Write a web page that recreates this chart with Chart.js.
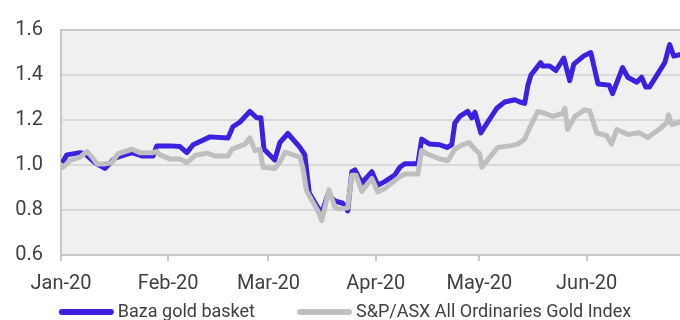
<!DOCTYPE html>
<html>
<head>
<meta charset="utf-8">
<script src="https://cdn.jsdelivr.net/npm/chart.js@4"></script>
<style>
  html, body { margin: 0; padding: 0; background: #fff; overflow: hidden; }
  #wrap { width: 680px; height: 320px; }
</style>
</head>
<body>
<div id="wrap"><canvas id="chart" width="680" height="320"></canvas></div>
<script>
// x values are days since 1 Jan 2020
const monthDays = [0, 31, 60, 91, 121, 152];
const monthLabels = ['Jan-20', 'Feb-20', 'Mar-20', 'Apr-20', 'May-20', 'Jun-20'];
const seriesNames = ['Baza gold basket', 'S&P/ASX All Ordinaries Gold Index'];

const bazaDays = [0, 1.7, 5.5, 6.9, 9.8, 12.7, 15.6, 20.5, 23.4, 26.6, 27.7, 31.5, 34.4, 36.4, 38.2,
  43.1, 48.3, 49.7, 51.7, 54.6, 56.6, 57.8, 58.7, 61.8, 63.3, 65.6, 69.1, 70.5, 71.8, 74.3, 75.4,
  77.2, 79.2, 81.5, 82.9, 84.1, 85.0, 87.0, 89.9, 91.6, 93.6, 96.5, 98.0, 99.4, 103.2, 104.3, 106.6,
  109.5, 111.6, 113.0, 113.9, 115.3, 117.6, 118.8, 119.7, 121.4, 124.0, 126.0, 128.3, 131.2, 132.7,
  134.1, 135.0, 135.9, 138.7, 139.3, 141.3, 143.1, 145.4, 147.1, 148.3, 151.2, 153.2, 155.3, 158.5,
  159.5, 162.4, 163.9, 166.5, 167.9, 169.1, 170.2, 174.6, 176.0, 177.2, 178.9];
const bazaValues = [1.00, 1.045, 1.055, 1.05, 1.01, 0.985, 1.03, 1.055, 1.04, 1.04, 1.085, 1.085, 1.082, 1.055, 1.09,
  1.125, 1.12, 1.17, 1.19, 1.238, 1.21, 1.21, 1.07, 1.022, 1.10, 1.14, 1.078, 1.045, 0.875, 0.81, 0.787,
  0.87, 0.84, 0.83, 0.796, 0.97, 0.978, 0.92, 0.97, 0.91, 0.926, 0.955, 0.99, 1.006, 1.006, 1.115, 1.093,
  1.09, 1.078, 1.09, 1.187, 1.216, 1.238, 1.21, 1.235, 1.143, 1.205, 1.252, 1.28, 1.29, 1.28,
  1.274, 1.353, 1.40, 1.455, 1.44, 1.44, 1.42, 1.475, 1.375, 1.448, 1.485, 1.50, 1.36, 1.355,
  1.317, 1.433, 1.39, 1.368, 1.39, 1.347, 1.347, 1.455, 1.535, 1.484, 1.49];

const asxDays = [0, 0.6, 2.6, 5.5, 7.5, 9.0, 10.4, 12.7, 14.7, 16.5, 20.5, 22.8, 26.6, 27.7, 28.6,
  31.5, 34.4, 36.4, 38.7, 42.2, 44.5, 48.3, 49.4, 53.2, 54.6, 56.1, 57.5, 58.4, 61.8, 63.3, 64.8,
  69.1, 70.0, 71.0, 74.3, 75.4, 77.5, 79.2, 80.6, 82.9, 84.1, 85.3, 87.0, 89.9, 91.6, 93.6, 97.7,
  99.4, 103.2, 104.3, 105.8, 109.5, 111.9, 113.9, 115.9, 118.0, 119.7, 121.1, 121.7, 124.0, 126.3,
  129.8, 132.1, 134.1, 135.5, 137.9, 139.9, 142.2, 145.1, 145.7, 146.5, 148.6, 151.4, 152.9, 154.9,
  157.8, 159.2, 160.7, 163.9, 167.3, 169.7, 173.1, 175.1, 175.7, 176.6, 178.9];
const asxValues = [1.00, 0.99, 1.02, 1.035, 1.06, 1.035, 1.005, 1.005, 1.01, 1.05, 1.07, 1.055, 1.055, 1.06, 1.045,
  1.027, 1.027, 1.01, 1.042, 1.053, 1.04, 1.04, 1.07, 1.093, 1.12, 1.064, 1.07, 0.99, 0.984, 1.013, 1.057,
  1.035, 0.984, 0.885, 0.796, 0.753, 0.89, 0.812, 0.805, 0.81, 0.955, 0.955, 0.883, 0.94, 0.88, 0.895, 0.945,
  0.96, 0.96, 1.064, 1.05, 1.027, 1.02, 1.07, 1.088, 1.10, 1.07, 1.05, 0.99, 1.035, 1.078,
  1.085, 1.093, 1.115, 1.165, 1.238, 1.23, 1.216, 1.23, 1.252, 1.158, 1.216, 1.245, 1.24, 1.143,
  1.13, 1.093, 1.158, 1.136, 1.143, 1.122, 1.16, 1.187, 1.223, 1.18, 1.19];

function toPoints(days, values) {
  return days.map((d, i) => ({ x: d, y: values[i] }));
}

const font = { family: 'Roboto', size: 20 };
const textColor = '#404040';

// grey plot background like the original
const plotBackground = {
  id: 'plotBackground',
  beforeDraw(chart) {
    const { ctx, chartArea: a } = chart;
    ctx.save();
    ctx.fillStyle = '#f0f0f0';
    ctx.fillRect(a.left, a.top, a.right - a.left, a.bottom - a.top);
    ctx.restore();
  }
};

// legend drawn by hand so it can sit low and partly cut off, as in the original
const bottomLegend = {
  id: 'bottomLegend',
  afterDraw(chart) {
    const ctx = chart.ctx;
    const lineLen = 55, gap = 4, itemGap = 42, y = 312;
    ctx.save();
    ctx.font = '18px Roboto';
    ctx.textBaseline = 'middle';
    const items = chart.data.datasets.map(ds => ({
      text: ds.label, color: ds.borderColor, w: ctx.measureText(ds.label).width
    }));
    const total = items.reduce((s, it) => s + lineLen + gap + it.w, 0) + itemGap * (items.length - 1);
    let x = (chart.width + 10 - total) / 2;
    items.forEach(it => {
      ctx.strokeStyle = it.color;
      ctx.lineWidth = 6;
      ctx.lineCap = 'round';
      ctx.beginPath();
      ctx.moveTo(x + 3, y);
      ctx.lineTo(x + lineLen - 3, y);
      ctx.stroke();
      ctx.fillStyle = textColor;
      ctx.fillText(it.text, x + lineLen + gap, y);
      x += lineLen + gap + it.w + itemGap;
    });
    ctx.restore();
  }
};

new Chart(document.getElementById('chart'), {
  type: 'line',
  data: {
    datasets: [
      {
        label: seriesNames[0],
        data: toPoints(bazaDays, bazaValues),
        borderColor: '#3a22e0',
        backgroundColor: '#3a22e0',
        borderWidth: 5,
        order: 1
      },
      {
        label: seriesNames[1],
        data: toPoints(asxDays, asxValues),
        borderColor: '#bfbfbf',
        backgroundColor: '#bfbfbf',
        borderWidth: 5,
        order: 0
      }
    ]
  },
  options: {
    responsive: false,
    animation: false,
    layout: { padding: { left: 0, top: 25, right: 0, bottom: 0 } },
    elements: {
      point: { radius: 0 },
      line: { tension: 0, borderJoinStyle: 'round', borderCapStyle: 'round' }
    },
    scales: {
      x: {
        type: 'linear',
        min: 0,
        max: 179,
        afterBuildTicks: (s) => { s.ticks = monthDays.map(v => ({ value: v })); },
        afterFit: (s) => { s.height = 65; },
        ticks: {
          autoSkip: false,
          maxRotation: 0,
          padding: 11,
          color: textColor,
          font: font,
          callback: (v, i) => monthLabels[i]
        },
        grid: { drawOnChartArea: false, tickLength: 6, color: '#c8c8c8', lineWidth: 2 },
        border: { color: '#c8c8c8', width: 2 }
      },
      y: {
        min: 0.6,
        max: 1.6,
        afterFit: (s) => { s.width = 61; },
        ticks: {
          stepSize: 0.2,
          padding: 18,
          color: textColor,
          font: font,
          callback: (v) => v.toFixed(1)
        },
        grid: {
          drawTicks: false,
          lineWidth: 2,
          color: (c) => (c.tick && c.tick.value > 1.59 ? '#c8c8c8' : '#d9d9d9')
        },
        border: { color: '#c8c8c8', width: 2 }
      }
    },
    plugins: {
      legend: { display: false },
      tooltip: { enabled: false }
    }
  },
  plugins: [plotBackground, bottomLegend]
});
</script>
</body>
</html>
